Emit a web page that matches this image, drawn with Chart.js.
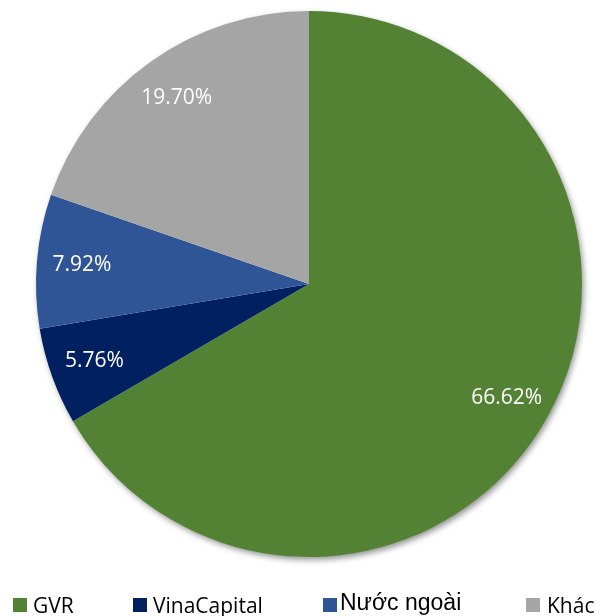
<!DOCTYPE html>
<html>
<head>
<meta charset="utf-8">
<script src="https://cdn.jsdelivr.net/npm/chart.js@4"></script>
<style>
  html, body { margin: 0; padding: 0; background: #fff; }
  #wrap { position: relative; width: 603px; height: 616px; }
  #legend { position: absolute; left: 0; top: 0; width: 603px; height: 616px; pointer-events: none; }
  .sw { position: absolute; width: 14px; height: 14px; }
  .tx { position: absolute; color: #000; white-space: nowrap; }
</style>
</head>
<body>
<div id="wrap">
  <canvas id="c" width="603" height="616"></canvas>
  <div id="legend"></div>
</div>
<script>
const categories = ['GVR', 'VinaCapital', 'Nước ngoài', 'Khác'];
const shares = [66.62, 5.76, 7.92, 19.70];
const sliceColors = ['#548235', '#002060', '#2F5597', '#A5A5A5'];

// legend layout (positions / styles only)
const legendSwatchX = [13, 133, 323, 526];
const legendTextX = [33, 153, 340, 547];
const legendFontSize = [21, 21, 23, 21];
const legendFontFamily = ['"Open Sans", sans-serif', '"Open Sans", sans-serif', '"Liberation Sans", Arial, sans-serif', '"Open Sans", sans-serif'];
const legendTextTop = [594.5, 594.5, 590.5, 594.5];

const legend = document.getElementById('legend');
categories.forEach((name, i) => {
  const sw = document.createElement('div');
  sw.className = 'sw';
  sw.style.left = legendSwatchX[i] + 'px';
  sw.style.top = '598px';
  sw.style.background = sliceColors[i];
  legend.appendChild(sw);
  const t = document.createElement('div');
  t.className = 'tx';
  t.style.left = legendTextX[i] + 'px';
  t.style.top = legendTextTop[i] + 'px';
  t.style.fontFamily = legendFontFamily[i];
  t.style.fontSize = legendFontSize[i] + 'px';
  t.style.lineHeight = legendFontSize[i] + 'px';
  t.textContent = name;
  legend.appendChild(t);
});

const shadowPlugin = {
  id: 'pieShadow',
  beforeDatasetsDraw(chart) {
    const arc = chart.getDatasetMeta(0).data[0];
    if (!arc) return;
    const { x, y, outerRadius } = arc.getProps(['x', 'y', 'outerRadius'], true);
    const ctx = chart.ctx;
    ctx.save();
    ctx.shadowColor = 'rgba(0,0,0,0.45)';
    ctx.shadowBlur = 6;
    ctx.shadowOffsetX = 2;
    ctx.shadowOffsetY = 3;
    ctx.fillStyle = '#ffffff';
    ctx.beginPath();
    ctx.arc(x, y, outerRadius - 0.5, 0, Math.PI * 2);
    ctx.fill();
    ctx.restore();
  }
};

const labelPlugin = {
  id: 'sliceLabels',
  afterDatasetsDraw(chart) {
    const ctx = chart.ctx;
    const meta = chart.getDatasetMeta(0);
    ctx.save();
    ctx.fillStyle = '#ffffff';
    ctx.font = '21px "Open Sans", sans-serif';
    ctx.textAlign = 'center';
    ctx.textBaseline = 'middle';
    meta.data.forEach((arc, i) => {
      const p = arc.getProps(['x', 'y', 'startAngle', 'endAngle', 'outerRadius'], true);
      const mid = (p.startAngle + p.endAngle) / 2;
      const r = p.outerRadius * 0.835;
      ctx.fillText(shares[i].toFixed(2) + '%', p.x + Math.cos(mid) * r, p.y + Math.sin(mid) * r);
    });
    ctx.restore();
  }
};

new Chart(document.getElementById('c'), {
  type: 'pie',
  data: {
    labels: categories,
    datasets: [{
      data: shares,
      backgroundColor: sliceColors,
      borderWidth: 0
    }]
  },
  options: {
    responsive: false,
    animation: false,
    layout: { padding: { left: 36, right: 21, top: 11, bottom: 59 } },
    plugins: {
      legend: { display: false },
      tooltip: { enabled: false }
    }
  },
  plugins: [shadowPlugin, labelPlugin]
});
</script>
</body>
</html>
